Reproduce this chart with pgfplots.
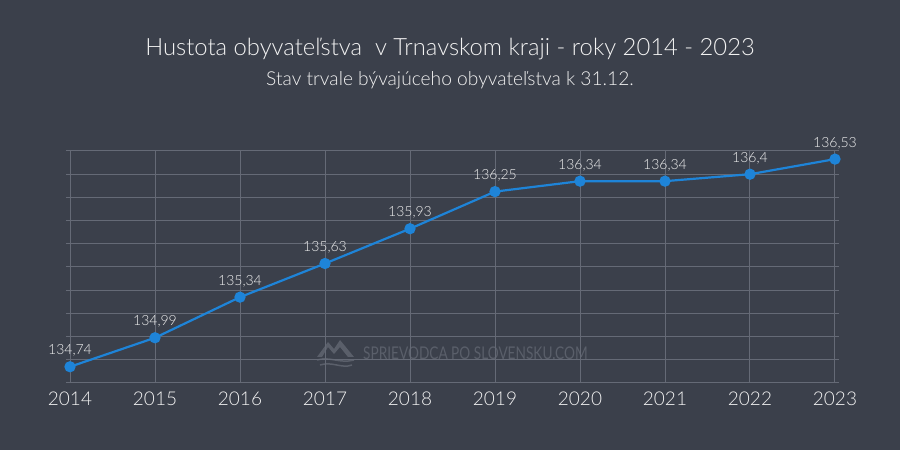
\documentclass[border=0pt]{standalone}
\usepackage{pgfplots}
\pgfplotsset{compat=1.18}
\usepackage{fontspec}
\setmainfont{Lato}[UprightFont=* Light]
\newfontfamily\latoreg{Lato}

\definecolor{bg}{HTML}{3B404B}
\definecolor{gridc}{HTML}{656A76}
\definecolor{linec}{HTML}{1E84D8}
\definecolor{txt}{HTML}{F2F2F2}
\definecolor{wm}{HTML}{5A5F6A}

\begin{document}
\begin{tikzpicture}
  % background, 900 x 450 px (1px = 1pt)
  \fill[bg] (0pt,0pt) rectangle (900pt,450pt);

  % titles
  \node[txt,font=\fontsize{23.8}{26}\selectfont] at (450pt,401pt) {Hustota obyvateľstva\ \ v Trnavskom kraji - roky 2014 - 2023};
  \node[txt,font=\fontsize{19.2}{21}\selectfont] at (450pt,370pt) {Stav trvale bývajúceho obyvateľstva k 31.12.};

  % watermark
  \node[wm,anchor=west,inner sep=0pt] at (363pt,97pt) {\scalebox{0.78}[1]{\latoreg\fontsize{17.5}{20}\selectfont SPRIEVODCA PO SLOVENSKU.COM}};
  \fill[wm] (317pt,93pt) -- (328pt,108pt) -- (334pt,101pt) -- (340pt,110pt) -- (354pt,93pt) -- (348pt,93pt) -- (340pt,103pt) -- (334pt,96pt) -- (328pt,103pt) -- (322pt,93pt) -- cycle;
  \draw[wm,line width=1.5pt] (317pt,90pt) .. controls (330pt,94pt) and (340pt,86pt) .. (354pt,90pt);
  \draw[wm,line width=1.5pt] (320pt,85pt) .. controls (332pt,89pt) and (342pt,81pt) .. (352pt,85pt);

  \begin{axis}[
      at={(70pt,67pt)}, anchor=south west,
      scale only axis, width=765pt, height=232pt,
      xmin=0, xmax=9, ymin=134.6, ymax=136.6,
      clip=false,
      xtick={0,...,9},
      xticklabels={2014,2015,2016,2017,2018,2019,2020,2021,2022,2023},
      ytick={134.6,134.8,135,135.2,135.4,135.6,135.8,136,136.2,136.4,136.6},
      yticklabels={},
      tick align=outside,
      major tick length=4pt,
      xtick style={draw=none},
      ytick style={gridc, line width=1pt},
      grid=major,
      grid style={gridc, line width=1pt},
      axis line style={gridc, line width=1pt},
      xticklabel style={txt, font=\fontsize{19}{21}\selectfont, yshift=-1pt},
      nodes near coords,
      point meta=explicit symbolic,
      every node near coord/.append style={txt, font=\fontsize{14}{16}\selectfont, inner sep=0pt, anchor=south, yshift=9pt},
    ]
    \addplot[linec, line width=2.2pt, mark=*, mark size=4.5pt, mark options={fill=linec, draw=linec}] coordinates {
      (0,134.74) [134,74]
      (1,134.99) [134,99]
      (2,135.34) [135,34]
      (3,135.63) [135,63]
      (4,135.93) [135,93]
      (5,136.25) [136,25]
      (6,136.34) [136,34]
      (7,136.34) [136,34]
      (8,136.40) [136,4]
      (9,136.53) [136,53]
    };
  \end{axis}
  \pgfresetboundingbox
  \useasboundingbox (0pt,0pt) rectangle (900pt,450pt);
\end{tikzpicture}
\end{document}
